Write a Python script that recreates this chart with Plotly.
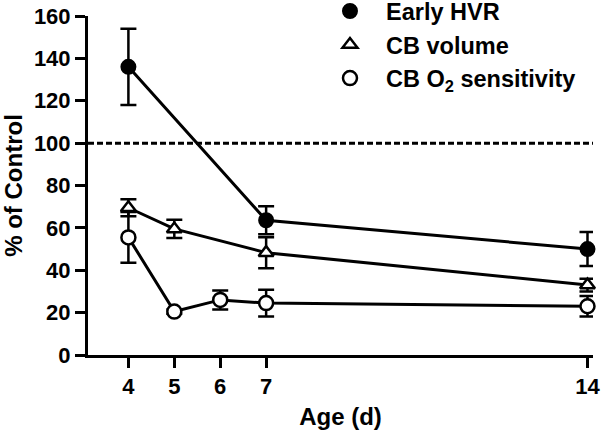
import plotly.graph_objects as go

# ---- data ----
age_hvr = [4, 7, 14]
hvr = [136, 63.6, 50]
hvr_err = [18, 6.6, 8]

age_vol = [4, 5, 7, 14]
vol = [69.5, 59.5, 48.3, 33]
vol_err = [4, 4.3, 7.3, 3]

age_o2 = [4, 5, 6, 7, 14]
o2 = [55.5, 20.5, 26, 24.5, 23]
o2_err = [12, 1, 4.5, 6.3, 4.8]

control_level = 100
x_ticks = [4, 5, 6, 7, 14]
y_ticks = [0, 20, 40, 60, 80, 100, 120, 140, 160]

names = ["Early HVR", "CB volume", "CB O<sub>2</sub> sensitivity"]

FAM = "Liberation Sans, Arial, sans-serif"
TICKFONT = dict(family=FAM, size=22, color="black", weight=700)
TITLEFONT = dict(family=FAM, size=24, color="black", weight=700)
LEGFONT = dict(family=FAM, size=23.5, color="black", weight=700)

fig = go.Figure()

series = [
    (age_hvr, hvr, hvr_err, dict(symbol="circle", size=14, color="black", line=dict(color="black", width=2))),
    (age_vol, vol, vol_err, dict(symbol="triangle-up", size=13, color="white", line=dict(color="black", width=2.5))),
    (age_o2, o2, o2_err, dict(symbol="circle", size=14, color="white", line=dict(color="black", width=2.5))),
]

for i, (xs, ys, es, mk) in enumerate(series):
    fig.add_trace(go.Scatter(
        x=xs, y=ys, mode="lines+markers",
        line=dict(color="black", width=3),
        marker=mk,
        error_y=dict(type="data", array=es, visible=True, color="black", thickness=2.5, width=8),
        showlegend=False, cliponaxis=False, hoverinfo="skip",
    ))

for i, (xs, ys, es, mk) in enumerate(series):
    fig.add_trace(go.Scatter(
        x=[None], y=[None], mode="markers", marker=mk, name=names[i],
        legendgroup=str(i), showlegend=True,
    ))

fig.add_hline(y=control_level, line=dict(color="black", width=3, dash="6px,3px"), layer="below")

fig.update_layout(
    width=601, height=434,
    margin=dict(l=88, r=8, t=16, b=79, autoexpand=False),
    plot_bgcolor="white", paper_bgcolor="white",
    font=TICKFONT,
    showlegend=True,
    legend=dict(
        x=0.4475, y=1.079, xanchor="left", yanchor="top",
        bgcolor="rgba(0,0,0,0)", font=LEGFONT,
        tracegroupgap=0, traceorder="grouped", itemwidth=62,
    ),
    xaxis=dict(
        range=[3.12, 14.12], tickvals=x_ticks, ticktext=[str(v) for v in x_ticks],
        showline=True, linecolor="black", linewidth=3,
        ticks="outside", ticklen=10, tickwidth=3, tickcolor="black",
        showgrid=False, zeroline=False, automargin=False,
        title=dict(text="Age (d)", font=TITLEFONT, standoff=10),
        tickfont=TICKFONT,
    ),
    yaxis=dict(
        range=[0, 160], tickvals=y_ticks,
        showline=True, linecolor="black", linewidth=3,
        ticks="outside", ticklen=10, tickwidth=3, tickcolor="black",
        showgrid=False, zeroline=False, automargin=False,
        title=dict(text="% of Control", font=TITLEFONT, standoff=6),
        tickfont=TICKFONT,
    ),
)

fig.write_html(
    "out.html",
    config={"displayModeBar": False},
    post_script="document.body.style.margin='0';document.body.style.overflow='hidden';",
)
